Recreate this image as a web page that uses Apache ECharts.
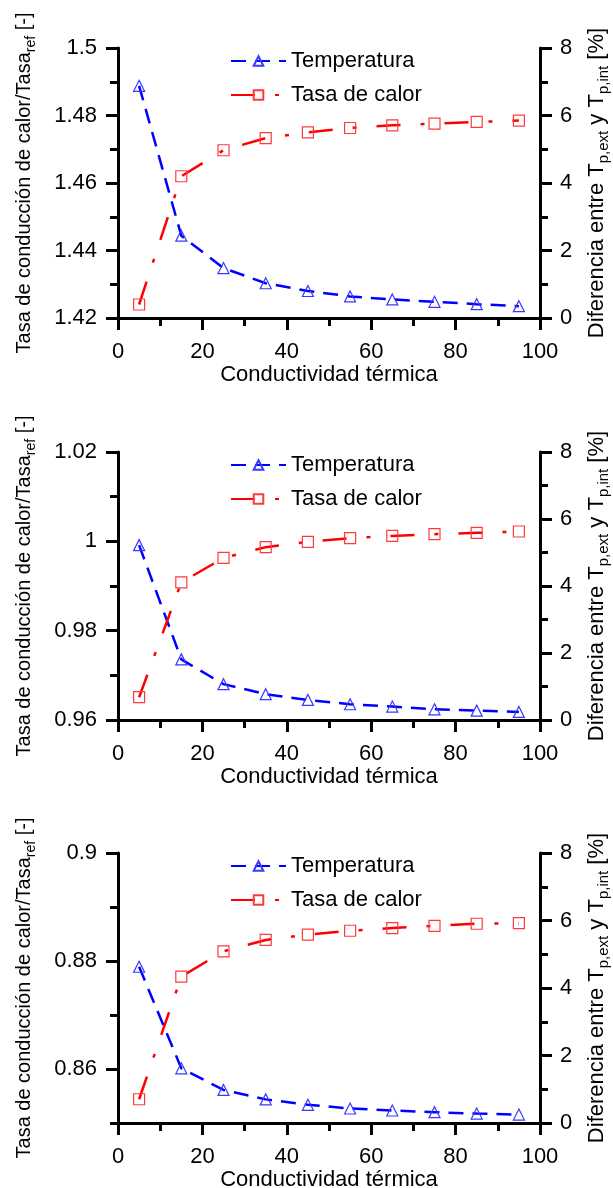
<!DOCTYPE html>
<html>
<head>
<meta charset="utf-8">
<script src="https://cdn.jsdelivr.net/npm/echarts@6/dist/echarts.min.js"></script>
<style>
html,body{margin:0;padding:0;background:#fff;}
#chart{width:613px;height:1188px;}
</style>
</head>
<body>
<div id="chart"></div>
<script>
// ---- data ----
const conductivity = [5, 15, 25, 35, 45, 55, 65, 75, 85, 95];

const temperatura1 = [6.88, 2.44, 1.48, 1.03, 0.80, 0.64, 0.55, 0.48, 0.41, 0.35];
const tasaCalor1   = [1.4240, 1.4620, 1.4697, 1.4733, 1.4750, 1.4763, 1.4771, 1.4776, 1.4781, 1.4785];

const temperatura2 = [5.22, 1.81, 1.07, 0.77, 0.60, 0.47, 0.40, 0.32, 0.28, 0.24];
const tasaCalor2   = [0.9651, 0.9908, 0.9963, 0.9987, 0.9999, 1.0007, 1.0012, 1.0016, 1.0019, 1.0022];

const temperatura3 = [4.63, 1.62, 0.98, 0.70, 0.54, 0.43, 0.37, 0.32, 0.28, 0.25];
const tasaCalor3   = [0.8544, 0.8771, 0.8818, 0.8839, 0.8849, 0.8856, 0.8861, 0.8865, 0.8869, 0.8870];

const leftMajor1 = [1.42, 1.44, 1.46, 1.48, 1.5];
const leftMinor1 = [1.43, 1.45, 1.47, 1.49];
const leftMajor2 = [0.96, 0.98, 1, 1.02];
const leftMinor2 = [0.97, 0.99, 1.01];
const leftMajor3 = [0.86, 0.88, 0.9];
const leftMinor3 = [0.85, 0.87, 0.89];

const seriesNames = ['Temperatura', 'Tasa de calor'];
const xTitle = 'Conductividad térmica';

// ---- layout ----
const FONT = 'Liberation Sans, Arial, sans-serif';
const panels = [
  { top: 48,  height: 270, temp: temperatura1, rate: tasaCalor1, lmin: 1.42, lmax: 1.5,  major: leftMajor1, minor: leftMinor1 },
  { top: 452, height: 268, temp: temperatura2, rate: tasaCalor2, lmin: 0.96, lmax: 1.02, major: leftMajor2, minor: leftMinor2 },
  { top: 853, height: 270, temp: temperatura3, rate: tasaCalor3, lmin: 0.85, lmax: 0.9,  major: leftMajor3, minor: leftMinor3 }
];

const axisLineStyle = { color: '#000', width: 3 };
const tickStyle = { color: '#000', width: 3 };
const grid = [], xAxis = [], yAxis = [], series = [], legend = [];

panels.forEach((p, g) => {
  grid.push({ left: 118, right: 73, top: p.top, height: p.height, outerBoundsMode: 'none' });

  xAxis.push({
    gridIndex: g, type: 'value', min: 0, max: 100, interval: 20,
    axisLine: { show: true, onZero: false, lineStyle: axisLineStyle },
    axisTick: { show: true, length: 12, lineStyle: tickStyle },
    minorTick: { show: true, splitNumber: 2, length: 8, lineStyle: tickStyle },
    splitLine: { show: false }, minorSplitLine: { show: false },
    axisLabel: { margin: 23, fontSize: 22, color: '#000', fontFamily: FONT },
    name: xTitle, nameLocation: 'middle', nameGap: 44,
    nameTextStyle: { fontSize: 22, color: '#000', fontFamily: FONT }
  });

  // left main axis (ratio)
  yAxis.push({
    gridIndex: g, type: 'value', position: 'left', min: p.lmin, max: p.lmax,
    axisLine: { show: true, onZero: false, lineStyle: axisLineStyle },
    axisTick: { show: true, length: 12, customValues: p.major, lineStyle: tickStyle },
    axisLabel: { customValues: p.major, margin: 21, fontSize: 22, color: '#000', fontFamily: FONT },
    splitLine: { show: false },
    name: '{a|Tasa de conducción de calor/Tasa}{s|ref}{a| [-]}',
    nameLocation: 'middle', nameRotate: 90, nameGap: 80,
    nameTextStyle: {
      fontSize: 20, color: '#000', fontFamily: FONT,
      rich: {
        a: { fontSize: 20, lineHeight: 27, color: '#000', fontFamily: FONT },
        s: { fontSize: 14, lineHeight: 14, verticalAlign: 'bottom', color: '#000', fontFamily: FONT }
      }
    }
  });

  // right axis (percent)
  yAxis.push({
    gridIndex: g, type: 'value', position: 'right', min: 0, max: 8, interval: 2,
    axisLine: { show: true, onZero: false, lineStyle: axisLineStyle },
    axisTick: { show: true, length: 12, lineStyle: tickStyle },
    minorTick: { show: true, splitNumber: 2, length: 8, lineStyle: tickStyle },
    axisLabel: { margin: 20, fontSize: 22, color: '#000', fontFamily: FONT },
    splitLine: { show: false }, minorSplitLine: { show: false },
    name: '{a|Diferencia entre T}{s|p,ext}{a| y T}{s|p,int}{a| [%]}',
    nameLocation: 'middle', nameRotate: 90, nameGap: 42,
    nameTextStyle: {
      fontSize: 22, color: '#000', fontFamily: FONT,
      rich: {
        a: { fontSize: 22, lineHeight: 29, color: '#000', fontFamily: FONT },
        s: { fontSize: 15, lineHeight: 15, verticalAlign: 'bottom', color: '#000', fontFamily: FONT }
      }
    }
  });

  // left minor ticks overlay
  yAxis.push({
    gridIndex: g, type: 'value', position: 'left', min: p.lmin, max: p.lmax,
    axisLine: { show: false, onZero: false },
    axisTick: { show: true, length: 8, customValues: p.minor, lineStyle: tickStyle },
    axisLabel: { show: false },
    splitLine: { show: false }
  });

  series.push({
    name: seriesNames[0], type: 'line', xAxisIndex: g, yAxisIndex: 3 * g + 1,
    data: conductivity.map((x, i) => [x, p.temp[i]]),
    symbol: 'triangle', symbolSize: 11, showSymbol: true,
    lineStyle: { color: '#0000ff', width: 2.5, type: [15, 9] },
    itemStyle: { color: 'rgba(255,255,255,0)', borderColor: '#3838ff', borderWidth: 1.2 },
    emphasis: { disabled: true }, animation: false
  });
  series.push({
    name: seriesNames[1], type: 'line', xAxisIndex: g, yAxisIndex: 3 * g,
    data: conductivity.map((x, i) => [x, p.rate[i]]),
    symbol: 'rect', symbolSize: 11, showSymbol: true,
    lineStyle: { color: '#ff0000', width: 2.5, type: [24, 20, 4, 20] },
    itemStyle: { color: 'rgba(255,255,255,0)', borderColor: '#ff3a3a', borderWidth: 1.2 },
    emphasis: { disabled: true }, animation: false
  });

  legend.push({
    top: p.top + 1, left: 230, orient: 'vertical', padding: 0,
    itemWidth: 55, itemHeight: 12, itemGap: 10, selectedMode: false,
    textStyle: { fontSize: 22, color: '#000', fontFamily: FONT, lineHeight: 24 },
    data: seriesNames
  });
});

const chart = echarts.init(document.getElementById('chart'), null, { renderer: 'canvas' });
chart.setOption({
  backgroundColor: '#fff',
  animation: false,
  grid, xAxis, yAxis, series, legend
});
</script>
</body>
</html>
